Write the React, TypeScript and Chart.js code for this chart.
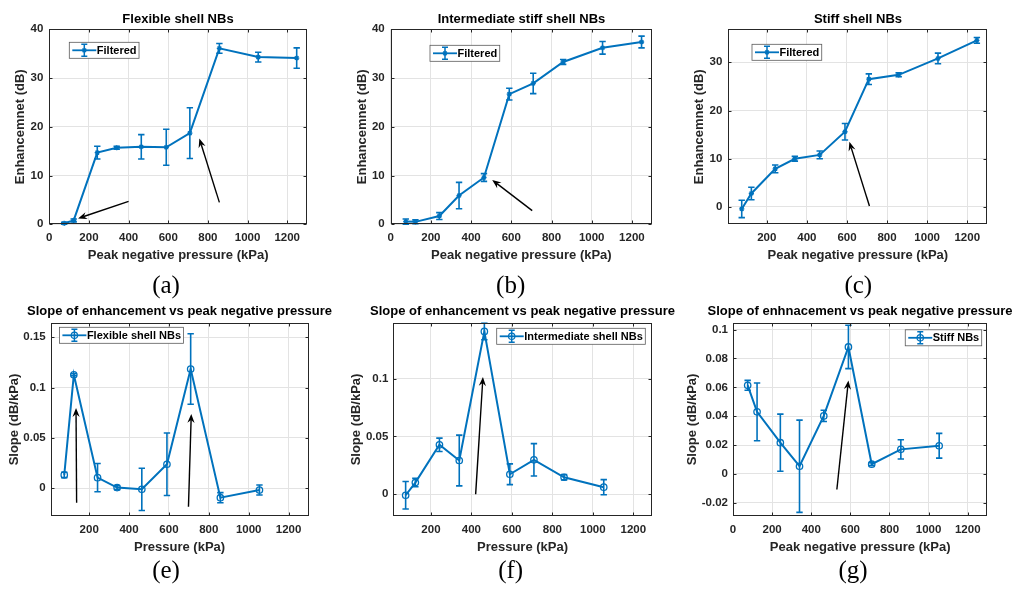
import React, { useEffect, useRef } from "react";
import { Chart, registerables } from "chart.js";
Chart.register(...registerables);

// ---------- data ----------
const pressure = [75, 123, 242, 340, 464, 590, 709, 858, 1054, 1248];
const slopePressure = [75, 123, 242, 340, 464, 590, 709, 858, 1054];

const flexibleEnh = [0.2, 0.8, 14.7, 15.7, 15.9, 15.8, 18.7, 36.1, 34.3, 34.1];
const flexibleEnhErr = [0.2, 0.3, 1.3, 0.3, 2.5, 3.7, 5.2, 1.0, 1.0, 2.1];
const intermediateEnh = [0.55, 0.5, 1.7, 5.9, 9.6, 26.7, 28.9, 33.3, 36.2, 37.4];
const intermediateEnhErr = [0.55, 0.4, 0.7, 2.7, 0.8, 1.2, 2.1, 0.5, 1.3, 1.2];
const stiffEnh = [-0.4, 2.8, 7.9, 10.0, 10.8, 15.6, 26.5, 27.4, 30.8, 34.55];
const stiffEnhErr = [1.8, 1.3, 0.8, 0.5, 0.8, 1.7, 1.1, 0.4, 1.1, 0.6];

const flexibleSlope = [0.0133, 0.1128, 0.0106, 0.0007, -0.001, 0.0239, 0.1185, -0.0093, -0.0017];
const flexibleSlopeErr = [0.0027, 0.001, 0.014, 0.002, 0.021, 0.031, 0.035, 0.005, 0.005];
const intermediateSlope = [-0.0009, 0.0101, 0.0428, 0.0292, 0.141, 0.0173, 0.0298, 0.0147, 0.0061];
const intermediateSlopeErr = [0.0119, 0.0036, 0.0058, 0.022, 0.0072, 0.009, 0.014, 0.0023, 0.0065];
const stiffSlope = [0.0614, 0.043, 0.0216, 0.0053, 0.0402, 0.088, 0.0067, 0.017, 0.0195];
const stiffSlopeErr = [0.0034, 0.02, 0.0198, 0.032, 0.0039, 0.015, 0.001, 0.0067, 0.0086];

// arrows: [xFrom, yFrom, xTo, yTo] in data units
const arrowsA = [[400, 4.7, 145, 1.2], [858, 4.5, 757, 17.6]];
const arrowsB = [[704, 2.8, 505, 9.1]];
const arrowsC = [[712, 0.2, 612, 13.5]];
const arrowsE = [[137, -0.0143, 134, 0.0797], [698, -0.0183, 712, 0.0739]];
const arrowsF = [[421, 0, 457, 0.1015]];
const arrowsG = [[531, -0.0108, 590, 0.0648]];

const xTicksFrom0 = [0, 200, 400, 600, 800, 1000, 1200];
const xTicksFrom200 = [200, 400, 600, 800, 1000, 1200];
const yTicksEnh40 = [0, 10, 20, 30, 40];
const yTicksEnh30 = [0, 10, 20, 30];
const yTicksSlopeE = [0, 0.05, 0.1, 0.15];
const yTicksSlopeF = [0, 0.05, 0.1];
const yTicksSlopeG = [-0.02, 0, 0.02, 0.04, 0.06, 0.08, 0.1];

const titles = [
  "Flexible shell NBs",
  "Intermediate stiff shell NBs",
  "Stiff shell NBs",
  "Slope of enhancement vs peak negative pressure",
  "Slope of enhancement vs peak negative pressure",
  "Slope of enhnacement vs peak negative pressure",
];
const legendLabels = ["Filtered", "Filtered", "Filtered", "Flexible shell NBs", "Intermediate shell NBs", "Stiff NBs"];
const xTitles = [
  "Peak negative pressure (kPa)",
  "Peak negative pressure (kPa)",
  "Peak negative pressure (kPa)",
  "Pressure (kPa)",
  "Pressure (kPa)",
  "Peak negative pressure (kPa)",
];
const yTitles = ["Enhancemnet (dB)", "Enhancemnet (dB)", "Enhancemnet (dB)", "Slope (dB/kPa)", "Slope (dB/kPa)", "Slope (dB/kPa)"];
const tags = ["(a)", "(b)", "(c)", "(e)", "(f)", "(g)"];

// ---------- styles / layout ----------
const BLUE = "#0072BD";
const AXIS = "#262626";
const GRID = "#e3e3e3";
const FONT = "'Liberation Sans', Arial, Helvetica, sans-serif";

type Panel = {
  xs: number[]; ys: number[]; err: number[]; arrows: number[][];
  xTicks: number[]; yTicks: number[];
  xMin: number; xMax: number; yMin: number; yMax: number;
  marker: string; box: number[]; yTitleGap: number; yTickPad: number; titleGap: number;
  legend: { side: string; dx: number; dy: number };
  tagPos: number[]; idx: number;
};

const panels: Panel[] = [
  { idx: 0, xs: pressure, ys: flexibleEnh, err: flexibleEnhErr, arrows: arrowsA, xTicks: xTicksFrom0, yTicks: yTicksEnh40,
    xMin: 0, xMax: 1300, yMin: 0, yMax: 40, marker: "star", box: [49.3, 29.3, 307, 224.3], yTitleGap: 29.3, yTickPad: 6, titleGap: 10,
    legend: { side: "left", dx: 20, dy: 13 }, tagPos: [166, 285] },
  { idx: 1, xs: pressure, ys: intermediateEnh, err: intermediateEnhErr, arrows: arrowsB, xTicks: xTicksFrom0, yTicks: yTicksEnh40,
    xMin: 0, xMax: 1300, yMin: 0, yMax: 40, marker: "star", box: [390.7, 29.3, 652, 224.3], yTitleGap: 28.7, yTickPad: 6, titleGap: 10,
    legend: { side: "left", dx: 39.3, dy: 16 }, tagPos: [510.7, 285] },
  { idx: 2, xs: pressure, ys: stiffEnh, err: stiffEnhErr, arrows: arrowsC, xTicks: xTicksFrom200, yTicks: yTicksEnh30,
    xMin: 8, xMax: 1300, yMin: -3.59, yMax: 36.84, marker: "star", box: [728.3, 29.3, 987.3, 224.3], yTitleGap: 29, yTickPad: 6, titleGap: 10,
    legend: { side: "left", dx: 23.7, dy: 15 }, tagPos: [858.3, 285] },
  { idx: 3, xs: slopePressure, ys: flexibleSlope, err: flexibleSlopeErr, arrows: arrowsE, xTicks: xTicksFrom200, yTicks: yTicksSlopeE,
    xMin: 7, xMax: 1300, yMin: -0.0272, yMax: 0.1639, marker: "circle", box: [50.7, 323.3, 308.5, 515.7], yTitleGap: 36.7, yTickPad: 5, titleGap: 12.3,
    legend: { side: "left", dx: 8.7, dy: 4 }, tagPos: [166, 570] },
  { idx: 4, xs: slopePressure, ys: intermediateSlope, err: intermediateSlopeErr, arrows: arrowsF, xTicks: xTicksFrom200, yTicks: yTicksSlopeF,
    xMin: 14, xMax: 1291, yMin: -0.0186, yMax: 0.148, marker: "circle", box: [393.3, 323.3, 651.7, 515.7], yTitleGap: 36.6, yTickPad: 5, titleGap: 12.3,
    legend: { side: "right", dx: 6.4, dy: 5 }, tagPos: [510.7, 570] },
  { idx: 5, xs: slopePressure, ys: stiffSlope, err: stiffSlopeErr, arrows: arrowsG, xTicks: xTicksFrom0, yTicks: yTicksSlopeG,
    xMin: 0, xMax: 1300, yMin: -0.029, yMax: 0.1044, marker: "circle", box: [733, 323.3, 987.3, 515.7], yTitleGap: 40.7, yTickPad: 5, titleGap: 12.3,
    legend: { side: "right", dx: 5.6, dy: 6.5 }, tagPos: [853, 570] },
];

const YW = 52; // y-axis band width (mirrored on the right so titles centre on the axes)
const XH = 45; // x-axis band height
const LH = 15.6; // 13px * 1.2

function drawArrow(ctx: CanvasRenderingContext2D, x1: number, y1: number, x2: number, y2: number) {
  const ang = Math.atan2(y2 - y1, x2 - x1);
  const c = Math.cos(ang), s = Math.sin(ang);
  const hl = 9, hw = 3.6, notch = 6;
  ctx.save();
  ctx.strokeStyle = "#000";
  ctx.fillStyle = "#000";
  ctx.lineWidth = 1.4;
  ctx.beginPath();
  ctx.moveTo(x1, y1);
  ctx.lineTo(x2 - notch * c, y2 - notch * s);
  ctx.stroke();
  ctx.beginPath();
  ctx.moveTo(x2, y2);
  ctx.lineTo(x2 - hl * c - hw * s, y2 - hl * s + hw * c);
  ctx.lineTo(x2 - notch * c, y2 - notch * s);
  ctx.lineTo(x2 - hl * c + hw * s, y2 - hl * s - hw * c);
  ctx.closePath();
  ctx.fill();
  ctx.restore();
}

function drawMarker(ctx: CanvasRenderingContext2D, kind: string, x: number, y: number) {
  ctx.beginPath();
  if (kind === "circle") {
    ctx.arc(x, y, 3.2, 0, Math.PI * 2);
  } else {
    const r = 2.6;
    ctx.moveTo(x - r, y); ctx.lineTo(x + r, y);
    ctx.moveTo(x, y - r); ctx.lineTo(x, y + r);
    ctx.moveTo(x - r * 0.7, y - r * 0.7); ctx.lineTo(x + r * 0.7, y + r * 0.7);
    ctx.moveTo(x - r * 0.7, y + r * 0.7); ctx.lineTo(x + r * 0.7, y - r * 0.7);
  }
  ctx.stroke();
}

function makePlugin(p: Panel) {
  return {
    id: "matlabStyle" + p.idx,
    afterDatasetsDraw(chart: any) {
      const { ctx, chartArea: ca } = chart;
      const xs = chart.scales.x, ys = chart.scales.y;
      ctx.save();
      ctx.beginPath();
      ctx.rect(ca.left, ca.top - 1, ca.right - ca.left, ca.bottom - ca.top + 2);
      ctx.clip();
      ctx.strokeStyle = BLUE;
      ctx.lineWidth = 1.6;
      p.xs.forEach((xv, i) => {
        const px = xs.getPixelForValue(xv);
        const yt = ys.getPixelForValue(p.ys[i] + p.err[i]);
        const yb = ys.getPixelForValue(p.ys[i] - p.err[i]);
        ctx.beginPath();
        ctx.moveTo(px, yt); ctx.lineTo(px, yb);
        ctx.moveTo(px - 3.2, yt); ctx.lineTo(px + 3.2, yt);
        ctx.moveTo(px - 3.2, yb); ctx.lineTo(px + 3.2, yb);
        ctx.stroke();
      });
      ctx.restore();
    },
    afterDraw(chart: any) {
      const { ctx, chartArea: ca } = chart;
      const xs = chart.scales.x, ys = chart.scales.y;
      p.arrows.forEach((a) => {
        drawArrow(ctx, xs.getPixelForValue(a[0]), ys.getPixelForValue(a[1]), xs.getPixelForValue(a[2]), ys.getPixelForValue(a[3]));
      });
      ctx.save();
      ctx.strokeStyle = AXIS;
      ctx.lineWidth = 1;
      const L = Math.round(ca.left) + 0.5, R = Math.round(ca.right) - 0.5;
      const T = Math.round(ca.top) + 0.5, B = Math.round(ca.bottom) - 0.5;
      ctx.strokeRect(L, T, R - L, B - T);
      ctx.beginPath();
      p.xTicks.forEach((v) => {
        const px = Math.round(xs.getPixelForValue(v)) + 0.5;
        ctx.moveTo(px, B); ctx.lineTo(px, B - 3);
        ctx.moveTo(px, T); ctx.lineTo(px, T + 3);
      });
      p.yTicks.forEach((v) => {
        const py = Math.round(ys.getPixelForValue(v)) + 0.5;
        ctx.moveTo(L, py); ctx.lineTo(L + 3, py);
        ctx.moveTo(R, py); ctx.lineTo(R - 3, py);
      });
      ctx.stroke();
      // legend
      const label = legendLabels[p.idx];
      ctx.font = "bold 11px " + FONT;
      const tw = ctx.measureText(label).width;
      const w = 27.5 + tw + 2.5, h = 16;
      const lx = p.legend.side === "left" ? ca.left + p.legend.dx : ca.right - p.legend.dx - w;
      const ly = ca.top + p.legend.dy;
      ctx.fillStyle = "#fff";
      ctx.fillRect(lx, ly, w, h);
      ctx.strokeStyle = "#5a5a5a";
      ctx.lineWidth = 0.8;
      ctx.strokeRect(lx, ly, w, h);
      const cy = ly + h / 2;
      ctx.strokeStyle = BLUE;
      ctx.lineWidth = 1.8;
      ctx.beginPath();
      ctx.moveTo(lx + 3, cy); ctx.lineTo(lx + 27, cy);
      ctx.stroke();
      const mx = lx + 15;
      ctx.lineWidth = 1.5;
      ctx.beginPath();
      ctx.moveTo(mx, cy - 6); ctx.lineTo(mx, cy + 6);
      ctx.moveTo(mx - 3, cy - 6); ctx.lineTo(mx + 3, cy - 6);
      ctx.moveTo(mx - 3, cy + 6); ctx.lineTo(mx + 3, cy + 6);
      ctx.stroke();
      ctx.lineWidth = 1.2;
      drawMarker(ctx, p.marker, mx, cy);
      ctx.fillStyle = "#000";
      ctx.textBaseline = "middle";
      ctx.textAlign = "left";
      ctx.fillText(label, lx + 27.5, cy + 0.5);
      ctx.restore();
    },
  };
}

function geometry(p: Panel) {
  const [x0, y0, x1, y1] = p.box;
  const left = Math.floor(x0 - YW);
  const width = Math.round(2 * ((x0 + x1) / 2 - left));
  const titleBottomPad = p.titleGap - LH / 2;
  const top = Math.floor(y0 - LH - titleBottomPad - 4);
  const height = Math.ceil(y1 + XH - top);
  return {
    left, top, width, height,
    yAxisWidth: x0 - left,
    rightWidth: width - (x1 - left),
    padBottom: height - (y1 - top) - XH,
    titleTop: y0 - top - LH - titleBottomPad,
    titleBottomPad,
    yTitlePad: x0 - p.yTitleGap - LH / 2 - left,
  };
}

function PanelChart({ p }: { p: Panel }) {
  const ref = useRef<HTMLCanvasElement | null>(null);
  const g = geometry(p);
  useEffect(() => {
    if (!ref.current) return;
    const tickFont = { family: FONT, size: 11.5, weight: "bold" as const, lineHeight: 1.15 };
    const titleFont = { family: FONT, size: 13, weight: "bold" as const, lineHeight: 1.2 };
    const chart = new Chart(ref.current, {
      type: "line",
      data: {
        datasets: [
          {
            label: legendLabels[p.idx],
            data: p.xs.map((xv, i) => ({ x: xv, y: p.ys[i] })),
            borderColor: BLUE,
            backgroundColor: BLUE,
            borderWidth: 2,
            pointStyle: p.marker === "circle" ? "circle" : "star",
            pointRadius: p.marker === "circle" ? 3.2 : 2.6,
            pointBorderWidth: 1.3,
            pointBorderColor: BLUE,
            pointBackgroundColor: "rgba(0,0,0,0)",
            tension: 0,
            clip: false as any,
          },
        ],
      },
      options: {
        responsive: false,
        animation: false,
        events: [],
        layout: { padding: { left: 0, top: 0, right: 0, bottom: g.padBottom } },
        plugins: {
          legend: { display: false },
          tooltip: { enabled: false },
          title: {
            display: true,
            text: titles[p.idx],
            color: "#000",
            font: titleFont,
            padding: { top: g.titleTop, bottom: g.titleBottomPad },
          },
        },
        scales: {
          x: {
            type: "linear",
            min: p.xMin,
            max: p.xMax,
            bounds: "data",
            afterBuildTicks: (s: any) => { s.ticks = p.xTicks.map((v) => ({ value: v })); },
            afterFit: (s: any) => { s.height = XH; },
            ticks: { font: tickFont, color: AXIS, padding: 7.4, maxRotation: 0, autoSkip: false, callback: (v: any) => String(v) },
            grid: { color: GRID, lineWidth: 1, drawTicks: false },
            border: { display: false },
            title: { display: true, text: xTitles[p.idx], color: AXIS, font: titleFont, padding: { top: 0, bottom: 5.8 } },
          },
          y: {
            type: "linear",
            position: "left",
            min: p.yMin,
            max: p.yMax,
            bounds: "data",
            afterBuildTicks: (s: any) => { s.ticks = p.yTicks.map((v) => ({ value: v })); },
            afterFit: (s: any) => { s.width = g.yAxisWidth; },
            ticks: { font: tickFont, color: AXIS, padding: p.yTickPad, autoSkip: false, callback: (v: any) => String(v) },
            grid: { color: GRID, lineWidth: 1, drawTicks: false },
            border: { display: false },
            title: { display: true, text: yTitles[p.idx], color: AXIS, font: titleFont, padding: { top: g.yTitlePad, bottom: 0 } },
          },
          yRight: {
            type: "linear",
            position: "right",
            min: 0,
            max: 1,
            afterFit: (s: any) => { s.width = g.rightWidth; },
            ticks: { display: false },
            grid: { display: false, drawTicks: false },
            border: { display: false },
            title: { display: false },
          },
        },
      },
      plugins: [makePlugin(p)],
    } as any);
    return () => chart.destroy();
  }, []);
  return (
    <canvas
      ref={ref}
      width={g.width}
      height={g.height}
      style={{ position: "absolute", left: g.left, top: g.top, width: g.width, height: g.height }}
    />
  );
}

export default function App() {
  return (
    <div style={{ position: "absolute", left: 0, top: 0, width: 1018, height: 592, background: "#fff", overflow: "hidden" }}>
      {panels.map((p) => (
        <PanelChart key={p.idx} p={p} />
      ))}
      {panels.map((p) => (
        <div
          key={"tag" + p.idx}
          style={{
            position: "absolute",
            left: p.tagPos[0] - 40,
            top: p.tagPos[1] - 16,
            width: 80,
            height: 32,
            lineHeight: "32px",
            textAlign: "center",
            fontFamily: "'Liberation Serif', 'Times New Roman', serif",
            fontSize: 25,
            color: "#000",
          }}
        >
          {tags[p.idx]}
        </div>
      ))}
    </div>
  );
}
